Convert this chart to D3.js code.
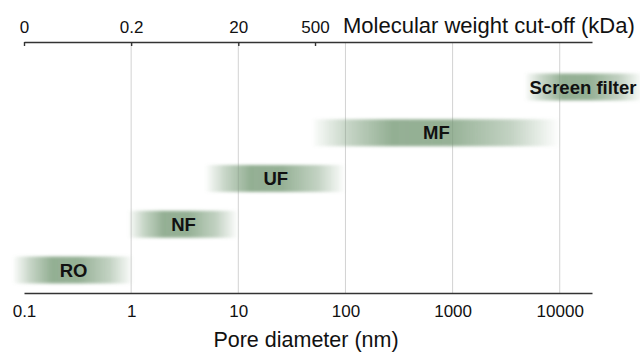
<!DOCTYPE html>
<html><head><meta charset="utf-8">
<script src="https://cdn.jsdelivr.net/npm/d3@7"></script>
<style>html,body{margin:0;padding:0;background:#fff;}svg{display:block;font-family:"Liberation Sans",Arial,sans-serif;}</style>
</head><body>
<svg id="chart" width="640" height="353"></svg>
<script>
// Data
const categories = ["RO", "NF", "UF", "MF", "Screen filter"];
const poreFrom = [0.08, 0.95, 5, 50, 4800];      // nm
const poreTo   = [1.05, 10, 100, 10000, 60000];    // nm
const bottomTicks = [0.1, 1, 10, 100, 1000, 10000];
const bottomTickLabels = ["0.1", "1", "10", "100", "1000", "10000"];
const topTickPositions = [0.1, 1, 10, 52];          // pore diameter equivalent
const topTickLabels = ["0", "0.2", "20", "500"];
const gridValues = [1, 10, 100, 1000, 10000];

const svg = d3.select("#chart");
const x = d3.scaleLog().domain([0.1, 20000]).range([24, 592]);
const y = d3.scalePoint().domain(categories).range([270, 87]);
const barH = 27;

// gradient
const defs = svg.append("defs");
const grad = defs.append("linearGradient").attr("id", "barGrad").attr("x1", "0%").attr("x2", "100%");
[[0, 0.03], [0.14, 0.42], [0.32, 0.8], [0.55, 0.78], [0.8, 0.45], [1, 0]].forEach(([o, a]) => {
  grad.append("stop").attr("offset", o * 100 + "%").attr("stop-color", "rgb(120,155,120)").attr("stop-opacity", a);
});
const blur = defs.append("filter").attr("id", "soft").attr("x", "-10%").attr("y", "-40%").attr("width", "120%").attr("height", "180%");
blur.append("feGaussianBlur").attr("stdDeviation", "1.8");

// grid
svg.append("g").selectAll("line").data(gridValues).join("line")
  .attr("x1", d => x(d)).attr("x2", d => x(d))
  .attr("y1", 42).attr("y2", 293)
  .attr("stroke", "#d2d2d2").attr("stroke-width", 1);

// bars
const bars = svg.append("g");
bars.selectAll("rect").data(categories).join("rect")
  .attr("x", (d, i) => x(poreFrom[i]))
  .attr("width", (d, i) => x(poreTo[i]) - x(poreFrom[i]))
  .attr("y", d => y(d) - barH / 2)
  .attr("height", barH)
  .attr("fill", "url(#barGrad)")
  .attr("filter", "url(#soft)");
bars.selectAll("text").data(categories).join("text")
  .attr("x", (d, i) => d === "Screen filter" ? 583 : (x(poreFrom[i]) + x(poreTo[i])) / 2)
  .attr("y", d => y(d))
  .attr("dy", "0.36em")
  .attr("text-anchor", "middle")
  .attr("font-weight", "bold")
  .attr("font-size", 18.5)
  .attr("fill", "#111")
  .text(d => d);

// bottom axis
const bottomAxis = svg.append("g").attr("transform", "translate(0,293)")
  .call(d3.axisBottom(x).tickValues(bottomTicks).tickFormat((d, i) => bottomTickLabels[i]).tickSize(0).tickPadding(12));
bottomAxis.select(".domain").attr("stroke", "#333").attr("stroke-width", 1.6);
bottomAxis.selectAll("text").attr("font-size", 17).attr("fill", "#111").attr("font-family", "Liberation Sans, Arial, sans-serif");

// top axis
const topAxis = svg.append("g").attr("transform", "translate(0,42)")
  .call(d3.axisTop(x).tickValues(topTickPositions).tickFormat((d, i) => topTickLabels[i]).tickSizeInner(-4).tickSizeOuter(0).tickPadding(9));
topAxis.select(".domain").attr("stroke", "#333").attr("stroke-width", 1.6);
topAxis.selectAll(".tick line").attr("stroke", "#333").attr("stroke-width", 1.4);
topAxis.selectAll("text").attr("font-size", 17).attr("fill", "#111").attr("font-family", "Liberation Sans, Arial, sans-serif");

// titles
svg.append("text").attr("x", 343).attr("y", 33).attr("font-size", 22).attr("fill", "#111")
  .text("Molecular weight cut-off (kDa)");
svg.append("text").attr("x", 306).attr("y", 347).attr("text-anchor", "middle").attr("font-size", 21.5).attr("fill", "#111")
  .text("Pore diameter (nm)");
</script>
</body></html>
